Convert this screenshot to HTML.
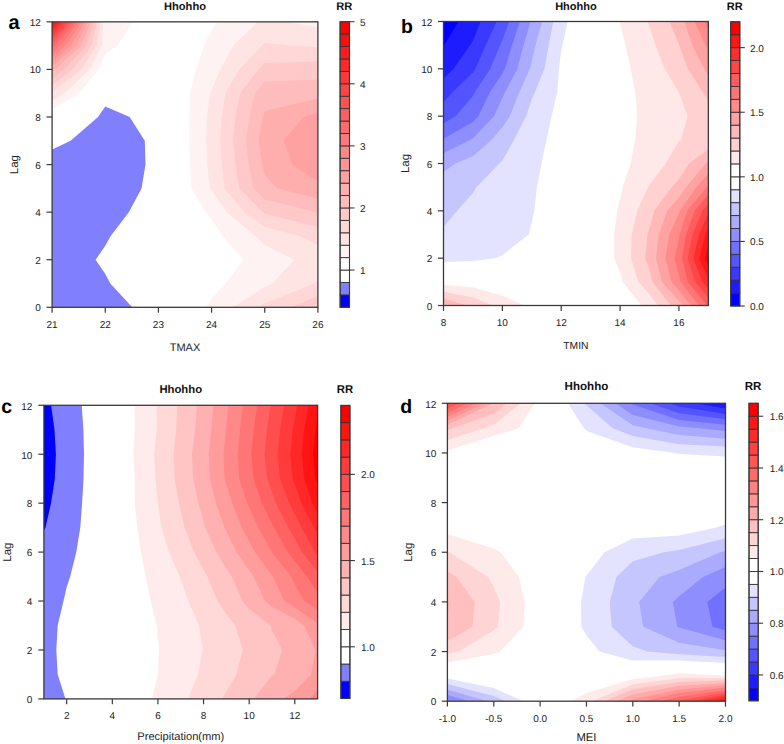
<!DOCTYPE html>
<html><head><meta charset="utf-8"><style>
html,body{margin:0;padding:0;background:#fff;}
svg{display:block;}
text{font-family:"Liberation Sans", sans-serif;text-rendering:geometricPrecision;}
</style></head><body>
<svg width="784" height="744" viewBox="0 0 784 744" font-family='"Liberation Sans", sans-serif'>
<rect width="784" height="744" fill="#fff"/>
<clipPath id="clipa"><rect x="52.1" y="21.85" width="265.80" height="285.45"/></clipPath>
<g clip-path="url(#clipa)">
<path d="M52.1 307.3L105.3 307.3L132.3 307.3L110.3 283.5L105.3 274.1L95.6 259.7L105.3 245.8L110.7 235.9L128.8 212.2L141.5 188.4L145.5 164.6L144.8 140.8L129.7 117.0L105.3 106.6L98.0 117.0L70.6 140.8L52.1 149.5L52.1 164.6L52.1 188.4L52.1 212.2L52.1 235.9L52.1 259.7L52.1 283.5Z" fill="#8080ff" fill-rule="evenodd"/>
<path d="M206.3 307.3L211.6 307.3L264.7 307.3L317.9 307.3L317.9 283.5L317.9 259.7L317.9 235.9L317.9 212.2L317.9 188.4L317.9 164.6L317.9 140.8L317.9 117.0L317.9 93.2L317.9 69.4L317.9 45.6L317.9 21.9L264.7 21.9L217.0 21.9L211.6 30.5L203.9 45.6L196.1 69.4L190.0 93.2L189.4 117.0L189.2 140.8L189.8 164.6L191.2 188.4L206.0 212.2L211.6 219.7L222.8 235.9L243.2 259.7L225.5 283.5L211.6 298.4ZM52.1 93.2L52.1 109.8L79.4 93.2L98.5 69.4L105.3 53.9L117.5 45.6L132.9 21.9L105.3 21.9L52.1 21.9L52.1 45.6L52.1 69.4Z" fill="#fff2f2" fill-rule="evenodd"/>
<path d="M233.1 307.3L264.7 307.3L317.9 307.3L317.9 283.5L317.9 259.7L317.9 235.9L317.9 212.2L317.9 188.4L317.9 164.6L317.9 140.8L317.9 117.0L317.9 93.2L317.9 69.4L317.9 45.6L317.9 27.0L287.3 21.9L264.7 21.9L257.5 21.9L233.4 45.6L220.4 69.4L211.6 90.2L210.2 93.2L206.8 117.0L206.1 140.8L207.2 164.6L210.1 188.4L211.6 190.4L226.7 212.2L255.2 235.9L264.7 244.9L294.1 259.7L272.8 283.5L264.7 286.8ZM52.1 93.2L52.1 100.8L64.7 93.2L89.8 69.4L102.2 45.6L103.2 21.9L52.1 21.9L52.1 45.6L52.1 69.4Z" fill="#ffe4e4" fill-rule="evenodd"/>
<path d="M259.0 307.3L264.7 307.3L317.9 307.3L317.9 283.5L317.9 280.3L314.1 283.5L264.7 303.6ZM299.6 235.9L317.9 245.0L317.9 235.9L317.9 212.2L317.9 188.4L317.9 164.6L317.9 140.8L317.9 117.0L317.9 93.2L317.9 69.4L317.9 47.3L289.7 45.6L264.7 43.0L261.8 45.6L239.4 69.4L225.4 93.2L221.6 117.0L220.2 140.8L221.7 164.6L224.8 188.4L244.6 212.2L264.7 226.7ZM52.1 69.4L52.1 92.2L81.1 69.4L97.0 45.6L100.1 21.9L52.1 21.9L52.1 45.6Z" fill="#ffd7d7" fill-rule="evenodd"/>
<path d="M290.8 307.3L317.9 307.3L317.9 296.1ZM262.6 212.2L264.7 213.7L317.9 226.9L317.9 212.2L317.9 188.4L317.9 164.6L317.9 140.8L317.9 117.0L317.9 93.2L317.9 69.4L317.9 61.6L264.7 62.9L258.3 69.4L240.2 93.2L235.5 117.0L233.1 140.8L235.2 164.6L239.2 188.4ZM52.1 69.4L52.1 85.4L72.5 69.4L91.7 45.6L97.1 21.9L52.1 21.9L52.1 45.6Z" fill="#ffc9c9" fill-rule="evenodd"/>
<path d="M316.4 212.2L317.9 212.5L317.9 212.2L317.9 188.4L317.9 164.6L317.9 140.8L317.9 117.0L317.9 93.2L317.9 79.4L264.7 81.4L255.1 93.2L249.3 117.0L245.9 140.8L248.8 164.6L253.5 188.4L264.7 199.5ZM52.1 69.4L52.1 78.6L63.8 69.4L86.5 45.6L94.0 21.9L52.1 21.9L52.1 45.6Z" fill="#ffbcbc" fill-rule="evenodd"/>
<path d="M277.2 188.4L317.9 198.4L317.9 188.4L317.9 164.6L317.9 140.8L317.9 117.0L317.9 98.5L264.7 111.1L263.1 117.0L258.7 140.8L262.3 164.6L264.7 175.3ZM52.1 69.4L52.1 71.8L55.1 69.4L81.3 45.6L90.9 21.9L52.1 21.9L52.1 45.6Z" fill="#ffaeae" fill-rule="evenodd"/>
<path d="M292.4 164.6L317.9 181.8L317.9 164.6L317.9 140.8L317.9 117.0L317.9 112.4L303.5 117.0L283.7 140.8ZM52.1 45.6L52.1 66.5L76.1 45.6L87.9 21.9L52.1 21.9Z" fill="#ffa1a1" fill-rule="evenodd"/>
<path d="M52.1 45.6L52.1 61.9L70.9 45.6L84.8 21.9L52.1 21.9Z" fill="#ff9494" fill-rule="evenodd"/>
<path d="M52.1 45.6L52.1 57.4L65.6 45.6L81.8 21.9L52.1 21.9Z" fill="#ff8686" fill-rule="evenodd"/>
<path d="M52.1 45.6L52.1 52.9L60.4 45.6L78.7 21.9L52.1 21.9Z" fill="#ff7979" fill-rule="evenodd"/>
<path d="M52.1 45.6L52.1 48.3L55.2 45.6L75.6 21.9L52.1 21.9Z" fill="#ff6b6b" fill-rule="evenodd"/>
<path d="M52.1 21.9L52.1 44.3L72.6 21.9Z" fill="#ff5e5e" fill-rule="evenodd"/>
<path d="M52.1 21.9L52.1 40.9L69.5 21.9Z" fill="#ff5151" fill-rule="evenodd"/>
<path d="M52.1 21.9L52.1 37.6L66.4 21.9Z" fill="#ff4343" fill-rule="evenodd"/>
<path d="M52.1 21.9L52.1 34.2L63.4 21.9Z" fill="#ff3636" fill-rule="evenodd"/>
<path d="M52.1 21.9L52.1 30.8L60.3 21.9Z" fill="#ff2828" fill-rule="evenodd"/>
<path d="M52.1 21.9L52.1 27.5L57.2 21.9Z" fill="#ff1b1b" fill-rule="evenodd"/>
<path d="M52.1 21.9L52.1 24.1L54.2 21.9Z" fill="#ff0d0d" fill-rule="evenodd"/>
</g>
<rect x="52.1" y="21.85" width="265.80" height="285.45" fill="none" stroke="#3a3a3a" stroke-width="1.3"/>
<line x1="52.10" y1="307.3" x2="52.10" y2="312.70" stroke="#3a3a3a" stroke-width="1.2"/>
<text x="52.10" y="327.70" font-size="10" text-anchor="middle" fill="#222">21</text>
<line x1="105.26" y1="307.3" x2="105.26" y2="312.70" stroke="#3a3a3a" stroke-width="1.2"/>
<text x="105.26" y="327.70" font-size="10" text-anchor="middle" fill="#222">22</text>
<line x1="158.42" y1="307.3" x2="158.42" y2="312.70" stroke="#3a3a3a" stroke-width="1.2"/>
<text x="158.42" y="327.70" font-size="10" text-anchor="middle" fill="#222">23</text>
<line x1="211.58" y1="307.3" x2="211.58" y2="312.70" stroke="#3a3a3a" stroke-width="1.2"/>
<text x="211.58" y="327.70" font-size="10" text-anchor="middle" fill="#222">24</text>
<line x1="264.74" y1="307.3" x2="264.74" y2="312.70" stroke="#3a3a3a" stroke-width="1.2"/>
<text x="264.74" y="327.70" font-size="10" text-anchor="middle" fill="#222">25</text>
<line x1="317.90" y1="307.3" x2="317.90" y2="312.70" stroke="#3a3a3a" stroke-width="1.2"/>
<text x="317.90" y="327.70" font-size="10" text-anchor="middle" fill="#222">26</text>
<line x1="46.50" y1="307.30" x2="52.1" y2="307.30" stroke="#3a3a3a" stroke-width="1.2"/>
<text x="40.90" y="311.30" font-size="10" text-anchor="end" fill="#222">0</text>
<line x1="46.50" y1="259.73" x2="52.1" y2="259.73" stroke="#3a3a3a" stroke-width="1.2"/>
<text x="40.90" y="263.73" font-size="10" text-anchor="end" fill="#222">2</text>
<line x1="46.50" y1="212.15" x2="52.1" y2="212.15" stroke="#3a3a3a" stroke-width="1.2"/>
<text x="40.90" y="216.15" font-size="10" text-anchor="end" fill="#222">4</text>
<line x1="46.50" y1="164.58" x2="52.1" y2="164.58" stroke="#3a3a3a" stroke-width="1.2"/>
<text x="40.90" y="168.58" font-size="10" text-anchor="end" fill="#222">6</text>
<line x1="46.50" y1="117.00" x2="52.1" y2="117.00" stroke="#3a3a3a" stroke-width="1.2"/>
<text x="40.90" y="121.00" font-size="10" text-anchor="end" fill="#222">8</text>
<line x1="46.50" y1="69.43" x2="52.1" y2="69.43" stroke="#3a3a3a" stroke-width="1.2"/>
<text x="40.90" y="73.43" font-size="10" text-anchor="end" fill="#222">10</text>
<line x1="46.50" y1="21.85" x2="52.1" y2="21.85" stroke="#3a3a3a" stroke-width="1.2"/>
<text x="40.90" y="25.85" font-size="10" text-anchor="end" fill="#222">12</text>
<text x="185.00" y="350.50" font-size="11" text-anchor="middle" fill="#222">TMAX</text>
<text transform="translate(17.90,164.58) rotate(-90)" x="0" y="0" font-size="11.5" text-anchor="middle" fill="#222">Lag</text>
<text x="185.00" y="9.80" font-size="11.1" font-weight="bold" text-anchor="middle" fill="#111">Hhohho</text>
<text x="8.60" y="29.20" font-size="20" font-weight="bold" fill="#000">a</text>
<rect x="340.1" y="294.88" width="9.40" height="12.42" fill="#0000ff" stroke="#333" stroke-width="0.9"/>
<rect x="340.1" y="282.47" width="9.40" height="12.42" fill="#8080ff" stroke="#333" stroke-width="0.9"/>
<rect x="340.1" y="270.05" width="9.40" height="12.42" fill="#ffffff" stroke="#333" stroke-width="0.9"/>
<rect x="340.1" y="257.63" width="9.40" height="12.42" fill="#ffffff" stroke="#333" stroke-width="0.9"/>
<rect x="340.1" y="245.21" width="9.40" height="12.42" fill="#fff2f2" stroke="#333" stroke-width="0.9"/>
<rect x="340.1" y="232.80" width="9.40" height="12.42" fill="#ffe4e4" stroke="#333" stroke-width="0.9"/>
<rect x="340.1" y="220.38" width="9.40" height="12.42" fill="#ffd7d7" stroke="#333" stroke-width="0.9"/>
<rect x="340.1" y="207.96" width="9.40" height="12.42" fill="#ffc9c9" stroke="#333" stroke-width="0.9"/>
<rect x="340.1" y="195.54" width="9.40" height="12.42" fill="#ffbcbc" stroke="#333" stroke-width="0.9"/>
<rect x="340.1" y="183.13" width="9.40" height="12.42" fill="#ffaeae" stroke="#333" stroke-width="0.9"/>
<rect x="340.1" y="170.71" width="9.40" height="12.42" fill="#ffa1a1" stroke="#333" stroke-width="0.9"/>
<rect x="340.1" y="158.29" width="9.40" height="12.42" fill="#ff9494" stroke="#333" stroke-width="0.9"/>
<rect x="340.1" y="145.87" width="9.40" height="12.42" fill="#ff8686" stroke="#333" stroke-width="0.9"/>
<rect x="340.1" y="133.46" width="9.40" height="12.42" fill="#ff7979" stroke="#333" stroke-width="0.9"/>
<rect x="340.1" y="121.04" width="9.40" height="12.42" fill="#ff6b6b" stroke="#333" stroke-width="0.9"/>
<rect x="340.1" y="108.62" width="9.40" height="12.42" fill="#ff5e5e" stroke="#333" stroke-width="0.9"/>
<rect x="340.1" y="96.20" width="9.40" height="12.42" fill="#ff5151" stroke="#333" stroke-width="0.9"/>
<rect x="340.1" y="83.79" width="9.40" height="12.42" fill="#ff4343" stroke="#333" stroke-width="0.9"/>
<rect x="340.1" y="71.37" width="9.40" height="12.42" fill="#ff3636" stroke="#333" stroke-width="0.9"/>
<rect x="340.1" y="58.95" width="9.40" height="12.42" fill="#ff2828" stroke="#333" stroke-width="0.9"/>
<rect x="340.1" y="46.53" width="9.40" height="12.42" fill="#ff1b1b" stroke="#333" stroke-width="0.9"/>
<rect x="340.1" y="34.12" width="9.40" height="12.42" fill="#ff0d0d" stroke="#333" stroke-width="0.9"/>
<rect x="340.1" y="21.70" width="9.40" height="12.42" fill="#ff0000" stroke="#333" stroke-width="0.9"/>
<rect x="340.1" y="21.7" width="9.40" height="285.60" fill="none" stroke="#3a3a3a" stroke-width="1.1"/>
<line x1="349.5" y1="270.05" x2="354.50" y2="270.05" stroke="#3a3a3a" stroke-width="1.1"/>
<text x="360.10" y="274.05" font-size="10" fill="#222">1</text>
<line x1="349.5" y1="207.96" x2="354.50" y2="207.96" stroke="#3a3a3a" stroke-width="1.1"/>
<text x="360.10" y="211.96" font-size="10" fill="#222">2</text>
<line x1="349.5" y1="145.87" x2="354.50" y2="145.87" stroke="#3a3a3a" stroke-width="1.1"/>
<text x="360.10" y="149.87" font-size="10" fill="#222">3</text>
<line x1="349.5" y1="83.79" x2="354.50" y2="83.79" stroke="#3a3a3a" stroke-width="1.1"/>
<text x="360.10" y="87.79" font-size="10" fill="#222">4</text>
<line x1="349.5" y1="21.70" x2="354.50" y2="21.70" stroke="#3a3a3a" stroke-width="1.1"/>
<text x="360.10" y="25.70" font-size="10" fill="#222">5</text>
<text x="344.30" y="9.80" font-size="11.1" font-weight="bold" text-anchor="middle" fill="#111">RR</text>
<clipPath id="clipb"><rect x="443.5" y="21.5" width="264.85" height="284.00"/></clipPath>
<g clip-path="url(#clipb)">
<path d="M443.5 258.2L443.5 261.9L472.9 260.9L495.6 258.2L502.4 254.9L528.8 234.5L531.8 221.8L534.3 210.8L536.9 187.2L541.5 163.5L546.5 139.8L551.6 116.2L557.3 92.5L559.0 68.8L561.2 50.7L562.5 45.2L567.7 21.5L561.2 21.5L531.8 21.5L502.4 21.5L472.9 21.5L443.5 21.5L443.5 45.2L443.5 68.8L443.5 92.5L443.5 116.2L443.5 139.8L443.5 163.5L443.5 187.2L443.5 210.8L443.5 234.5Z" fill="#e3e3ff" fill-rule="evenodd"/>
<path d="M443.5 210.8L443.5 226.7L457.2 210.8L472.9 192.9L476.3 187.2L499.3 163.5L502.4 160.6L514.0 139.8L526.1 116.2L531.8 99.0L534.8 92.5L544.4 68.8L548.7 45.2L553.4 21.5L531.8 21.5L502.4 21.5L472.9 21.5L443.5 21.5L443.5 45.2L443.5 68.8L443.5 92.5L443.5 116.2L443.5 139.8L443.5 163.5L443.5 187.2Z" fill="#c6c6ff" fill-rule="evenodd"/>
<path d="M443.5 163.5L443.5 172.0L455.4 163.5L472.9 156.2L491.7 139.8L502.4 127.3L509.8 116.2L519.2 92.5L530.0 68.8L531.8 61.1L535.6 45.2L542.0 21.5L531.8 21.5L502.4 21.5L472.9 21.5L443.5 21.5L443.5 45.2L443.5 68.8L443.5 92.5L443.5 116.2L443.5 139.8Z" fill="#aaaaff" fill-rule="evenodd"/>
<path d="M443.5 139.8L443.5 153.2L470.7 139.8L472.9 138.6L493.9 116.2L502.4 98.1L504.8 92.5L517.4 68.8L523.5 45.2L530.6 21.5L502.4 21.5L472.9 21.5L443.5 21.5L443.5 45.2L443.5 68.8L443.5 92.5L443.5 116.2Z" fill="#8e8eff" fill-rule="evenodd"/>
<path d="M443.5 116.2L443.5 138.8L472.9 121.9L478.3 116.2L489.8 92.5L502.4 73.4L504.8 68.8L512.0 45.2L519.9 21.5L502.4 21.5L472.9 21.5L443.5 21.5L443.5 45.2L443.5 68.8L443.5 92.5Z" fill="#7171ff" fill-rule="evenodd"/>
<path d="M443.5 116.2L443.5 123.3L455.7 116.2L472.9 95.9L474.6 92.5L490.3 68.8L500.0 45.2L502.4 40.3L509.2 21.5L502.4 21.5L472.9 21.5L443.5 21.5L443.5 45.2L443.5 68.8L443.5 92.5Z" fill="#5555ff" fill-rule="evenodd"/>
<path d="M443.5 92.5L443.5 102.3L452.3 92.5L472.9 72.5L475.4 68.8L485.7 45.2L496.6 21.5L472.9 21.5L443.5 21.5L443.5 45.2L443.5 68.8Z" fill="#3939ff" fill-rule="evenodd"/>
<path d="M443.5 68.8L443.5 78.6L453.6 68.8L470.0 45.2L472.9 40.7L480.6 21.5L472.9 21.5L443.5 21.5L443.5 45.2Z" fill="#1c1cff" fill-rule="evenodd"/>
<path d="M443.5 45.2L443.5 46.1L444.1 45.2L458.5 21.5L443.5 21.5Z" fill="#0000ff" fill-rule="evenodd"/>
<path d="M443.5 305.5L472.9 305.5L502.4 305.5L524.7 305.5L502.4 295.8L472.9 287.2L443.5 284.9ZM641.6 305.5L649.5 305.5L678.9 305.5L708.4 305.5L708.4 281.8L708.4 258.2L708.4 234.5L708.4 210.8L708.4 187.2L708.4 163.5L708.4 139.8L708.4 116.2L708.4 92.5L708.4 68.8L708.4 45.2L708.4 21.5L678.9 21.5L649.5 21.5L620.1 21.5L619.6 21.5L620.1 23.4L625.4 45.2L630.6 68.8L635.2 92.5L637.1 116.2L635.2 139.8L630.6 163.5L622.7 187.2L620.1 198.7L617.2 210.8L614.2 234.5L614.2 258.2L620.1 272.4L622.5 281.8Z" fill="#ffe8e8" fill-rule="evenodd"/>
<path d="M443.5 305.5L472.9 305.5L493.2 305.5L472.9 297.5L443.5 291.8ZM638.4 281.8L649.5 294.3L657.7 305.5L678.9 305.5L708.4 305.5L708.4 281.8L708.4 258.2L708.4 234.5L708.4 210.8L708.4 187.2L708.4 163.5L708.4 139.8L708.4 116.2L708.4 92.5L708.4 68.8L708.4 45.2L708.4 21.5L678.9 21.5L649.5 21.5L647.6 21.5L649.5 26.6L655.5 45.2L664.8 68.8L678.9 92.3L679.0 92.5L687.7 116.2L681.1 139.8L678.9 141.0L665.7 163.5L649.5 184.8L648.2 187.2L637.2 210.8L631.8 234.5L631.0 258.2Z" fill="#ffd1d1" fill-rule="evenodd"/>
<path d="M443.5 305.5L467.6 305.5L443.5 298.7ZM671.0 305.5L678.9 305.5L708.4 305.5L708.4 281.8L708.4 258.2L708.4 234.5L708.4 210.8L708.4 187.2L708.4 163.5L708.4 149.2L689.2 163.5L678.9 179.3L671.7 187.2L654.2 210.8L649.5 228.4L647.5 234.5L645.3 258.2L649.5 269.7L652.4 281.8ZM703.0 92.5L708.4 101.1L708.4 92.5L708.4 68.8L708.4 45.2L708.4 21.5L678.9 21.5L669.4 21.5L678.9 44.1L679.2 45.2L687.9 68.8Z" fill="#ffb9b9" fill-rule="evenodd"/>
<path d="M661.9 281.8L678.9 301.1L682.3 305.5L708.4 305.5L708.4 281.8L708.4 258.2L708.4 234.5L708.4 210.8L708.4 187.2L708.4 163.5L708.4 161.6L705.8 163.5L686.1 187.2L678.9 197.5L667.2 210.8L658.8 234.5L656.0 258.2ZM704.2 68.8L708.4 74.7L708.4 68.8L708.4 45.2L708.4 21.5L684.5 21.5L692.3 45.2Z" fill="#ffa2a2" fill-rule="evenodd"/>
<path d="M671.4 281.8L678.9 290.3L690.6 305.5L708.4 305.5L708.4 281.8L708.4 258.2L708.4 234.5L708.4 210.8L708.4 187.2L708.4 173.6L696.5 187.2L679.7 210.8L678.9 213.3L669.4 234.5L665.3 258.2ZM705.4 45.2L708.4 50.6L708.4 45.2L708.4 21.5L694.5 21.5Z" fill="#ff8b8b" fill-rule="evenodd"/>
<path d="M698.9 305.5L708.4 305.5L708.4 281.8L708.4 258.2L708.4 234.5L708.4 210.8L708.4 187.2L708.4 185.5L706.9 187.2L687.2 210.8L679.6 234.5L678.9 238.9L674.6 258.2L678.9 274.4L680.5 281.8ZM704.5 21.5L708.4 29.3L708.4 21.5Z" fill="#ff7474" fill-rule="evenodd"/>
<path d="M707.2 305.5L708.4 305.5L708.4 281.8L708.4 258.2L708.4 234.5L708.4 210.8L708.4 194.8L694.7 210.8L686.1 234.5L682.0 258.2L687.8 281.8Z" fill="#ff5d5d" fill-rule="evenodd"/>
<path d="M695.0 281.8L708.4 297.9L708.4 281.8L708.4 258.2L708.4 234.5L708.4 210.8L708.4 203.6L702.3 210.8L692.5 234.5L687.7 258.2Z" fill="#ff4646" fill-rule="evenodd"/>
<path d="M702.3 281.8L708.4 289.1L708.4 281.8L708.4 258.2L708.4 234.5L708.4 213.6L699.0 234.5L693.4 258.2Z" fill="#ff2e2e" fill-rule="evenodd"/>
<path d="M699.1 258.2L708.4 279.6L708.4 258.2L708.4 234.5L708.4 228.1L705.5 234.5Z" fill="#ff1717" fill-rule="evenodd"/>
<path d="M704.8 258.2L708.4 266.4L708.4 258.2L708.4 245.7Z" fill="#ff0000" fill-rule="evenodd"/>
</g>
<rect x="443.5" y="21.5" width="264.85" height="284.00" fill="none" stroke="#3a3a3a" stroke-width="1.3"/>
<line x1="443.50" y1="305.5" x2="443.50" y2="310.90" stroke="#3a3a3a" stroke-width="1.2"/>
<text x="443.50" y="325.50" font-size="10" text-anchor="middle" fill="#222">8</text>
<line x1="502.36" y1="305.5" x2="502.36" y2="310.90" stroke="#3a3a3a" stroke-width="1.2"/>
<text x="502.36" y="325.50" font-size="10" text-anchor="middle" fill="#222">10</text>
<line x1="561.21" y1="305.5" x2="561.21" y2="310.90" stroke="#3a3a3a" stroke-width="1.2"/>
<text x="561.21" y="325.50" font-size="10" text-anchor="middle" fill="#222">12</text>
<line x1="620.07" y1="305.5" x2="620.07" y2="310.90" stroke="#3a3a3a" stroke-width="1.2"/>
<text x="620.07" y="325.50" font-size="10" text-anchor="middle" fill="#222">14</text>
<line x1="678.92" y1="305.5" x2="678.92" y2="310.90" stroke="#3a3a3a" stroke-width="1.2"/>
<text x="678.92" y="325.50" font-size="10" text-anchor="middle" fill="#222">16</text>
<line x1="437.90" y1="305.50" x2="443.5" y2="305.50" stroke="#3a3a3a" stroke-width="1.2"/>
<text x="432.40" y="309.60" font-size="10" text-anchor="end" fill="#222">0</text>
<line x1="437.90" y1="258.17" x2="443.5" y2="258.17" stroke="#3a3a3a" stroke-width="1.2"/>
<text x="432.40" y="262.27" font-size="10" text-anchor="end" fill="#222">2</text>
<line x1="437.90" y1="210.83" x2="443.5" y2="210.83" stroke="#3a3a3a" stroke-width="1.2"/>
<text x="432.40" y="214.93" font-size="10" text-anchor="end" fill="#222">4</text>
<line x1="437.90" y1="163.50" x2="443.5" y2="163.50" stroke="#3a3a3a" stroke-width="1.2"/>
<text x="432.40" y="167.60" font-size="10" text-anchor="end" fill="#222">6</text>
<line x1="437.90" y1="116.17" x2="443.5" y2="116.17" stroke="#3a3a3a" stroke-width="1.2"/>
<text x="432.40" y="120.27" font-size="10" text-anchor="end" fill="#222">8</text>
<line x1="437.90" y1="68.83" x2="443.5" y2="68.83" stroke="#3a3a3a" stroke-width="1.2"/>
<text x="432.40" y="72.93" font-size="10" text-anchor="end" fill="#222">10</text>
<line x1="437.90" y1="21.50" x2="443.5" y2="21.50" stroke="#3a3a3a" stroke-width="1.2"/>
<text x="432.40" y="25.60" font-size="10" text-anchor="end" fill="#222">12</text>
<text x="575.92" y="348.70" font-size="10.3" text-anchor="middle" fill="#222">TMIN</text>
<text transform="translate(409.40,163.50) rotate(-90)" x="0" y="0" font-size="11.5" text-anchor="middle" fill="#222">Lag</text>
<text x="575.92" y="9.50" font-size="11.0" font-weight="bold" text-anchor="middle" fill="#111">Hhohho</text>
<text x="401.00" y="33.20" font-size="19.5" font-weight="bold" fill="#000">b</text>
<rect x="730.7" y="293.08" width="9.10" height="12.92" fill="#0000ff" stroke="#333" stroke-width="0.9"/>
<rect x="730.7" y="280.16" width="9.10" height="12.92" fill="#1c1cff" stroke="#333" stroke-width="0.9"/>
<rect x="730.7" y="267.25" width="9.10" height="12.92" fill="#3939ff" stroke="#333" stroke-width="0.9"/>
<rect x="730.7" y="254.33" width="9.10" height="12.92" fill="#5555ff" stroke="#333" stroke-width="0.9"/>
<rect x="730.7" y="241.41" width="9.10" height="12.92" fill="#7171ff" stroke="#333" stroke-width="0.9"/>
<rect x="730.7" y="228.49" width="9.10" height="12.92" fill="#8e8eff" stroke="#333" stroke-width="0.9"/>
<rect x="730.7" y="215.57" width="9.10" height="12.92" fill="#aaaaff" stroke="#333" stroke-width="0.9"/>
<rect x="730.7" y="202.65" width="9.10" height="12.92" fill="#c6c6ff" stroke="#333" stroke-width="0.9"/>
<rect x="730.7" y="189.74" width="9.10" height="12.92" fill="#e3e3ff" stroke="#333" stroke-width="0.9"/>
<rect x="730.7" y="176.82" width="9.10" height="12.92" fill="#ffffff" stroke="#333" stroke-width="0.9"/>
<rect x="730.7" y="163.90" width="9.10" height="12.92" fill="#ffffff" stroke="#333" stroke-width="0.9"/>
<rect x="730.7" y="150.98" width="9.10" height="12.92" fill="#ffe8e8" stroke="#333" stroke-width="0.9"/>
<rect x="730.7" y="138.06" width="9.10" height="12.92" fill="#ffd1d1" stroke="#333" stroke-width="0.9"/>
<rect x="730.7" y="125.15" width="9.10" height="12.92" fill="#ffb9b9" stroke="#333" stroke-width="0.9"/>
<rect x="730.7" y="112.23" width="9.10" height="12.92" fill="#ffa2a2" stroke="#333" stroke-width="0.9"/>
<rect x="730.7" y="99.31" width="9.10" height="12.92" fill="#ff8b8b" stroke="#333" stroke-width="0.9"/>
<rect x="730.7" y="86.39" width="9.10" height="12.92" fill="#ff7474" stroke="#333" stroke-width="0.9"/>
<rect x="730.7" y="73.47" width="9.10" height="12.92" fill="#ff5d5d" stroke="#333" stroke-width="0.9"/>
<rect x="730.7" y="60.55" width="9.10" height="12.92" fill="#ff4646" stroke="#333" stroke-width="0.9"/>
<rect x="730.7" y="47.64" width="9.10" height="12.92" fill="#ff2e2e" stroke="#333" stroke-width="0.9"/>
<rect x="730.7" y="34.72" width="9.10" height="12.92" fill="#ff1717" stroke="#333" stroke-width="0.9"/>
<rect x="730.7" y="21.80" width="9.10" height="12.92" fill="#ff0000" stroke="#333" stroke-width="0.9"/>
<rect x="730.7" y="21.8" width="9.10" height="284.20" fill="none" stroke="#3a3a3a" stroke-width="1.1"/>
<line x1="739.8" y1="306.00" x2="744.80" y2="306.00" stroke="#3a3a3a" stroke-width="1.1"/>
<text x="750.00" y="310.00" font-size="10" fill="#222">0.0</text>
<line x1="739.8" y1="241.41" x2="744.80" y2="241.41" stroke="#3a3a3a" stroke-width="1.1"/>
<text x="750.00" y="245.41" font-size="10" fill="#222">0.5</text>
<line x1="739.8" y1="176.82" x2="744.80" y2="176.82" stroke="#3a3a3a" stroke-width="1.1"/>
<text x="750.00" y="180.82" font-size="10" fill="#222">1.0</text>
<line x1="739.8" y1="112.23" x2="744.80" y2="112.23" stroke="#3a3a3a" stroke-width="1.1"/>
<text x="750.00" y="116.23" font-size="10" fill="#222">1.5</text>
<line x1="739.8" y1="47.64" x2="744.80" y2="47.64" stroke="#3a3a3a" stroke-width="1.1"/>
<text x="750.00" y="51.64" font-size="10" fill="#222">2.0</text>
<text x="734.75" y="9.50" font-size="11.0" font-weight="bold" text-anchor="middle" fill="#111">RR</text>
<clipPath id="clipc"><rect x="43.9" y="405.3" width="273.70" height="293.60"/></clipPath>
<g clip-path="url(#clipc)">
<path d="M43.9 698.9L65.5 698.9L57.7 674.4L56.3 650.0L57.7 625.5L63.5 601.0L66.7 587.3L70.2 576.6L76.3 552.1L80.3 527.6L82.1 503.2L83.5 478.7L84.0 454.2L83.4 429.8L81.7 405.3L66.7 405.3L43.9 405.3L43.9 429.8L43.9 454.2L43.9 478.7L43.9 503.2L43.9 527.6L43.9 552.1L43.9 576.6L43.9 601.0L43.9 625.5L43.9 650.0L43.9 674.4Z" fill="#8080ff" fill-rule="evenodd"/>
<path d="M43.9 527.6L43.9 530.7L45.5 527.6L51.0 503.2L54.8 478.7L55.9 454.2L54.5 429.8L51.1 405.3L43.9 405.3L43.9 429.8L43.9 454.2L43.9 478.7L43.9 503.2Z" fill="#0000ff" fill-rule="evenodd"/>
<path d="M151.8 698.9L157.9 698.9L180.8 698.9L203.6 698.9L226.4 698.9L249.2 698.9L272.0 698.9L294.8 698.9L317.6 698.9L317.6 674.4L317.6 650.0L317.6 625.5L317.6 601.0L317.6 576.6L317.6 552.1L317.6 527.6L317.6 503.2L317.6 478.7L317.6 454.2L317.6 429.8L317.6 405.3L294.8 405.3L272.0 405.3L249.2 405.3L226.4 405.3L203.6 405.3L180.8 405.3L157.9 405.3L135.1 405.3L134.8 405.3L134.8 429.8L133.6 454.2L134.8 478.7L134.8 503.2L135.1 506.3L137.3 527.6L140.9 552.1L145.8 576.6L150.6 601.0L156.7 625.5L157.9 638.0L159.1 650.0L157.9 673.1L157.9 674.4Z" fill="#ffebeb" fill-rule="evenodd"/>
<path d="M188.2 698.9L203.6 698.9L226.4 698.9L249.2 698.9L272.0 698.9L294.8 698.9L317.6 698.9L317.6 674.4L317.6 650.0L317.6 625.5L317.6 601.0L317.6 576.6L317.6 552.1L317.6 527.6L317.6 503.2L317.6 478.7L317.6 454.2L317.6 429.8L317.6 405.3L294.8 405.3L272.0 405.3L249.2 405.3L226.4 405.3L203.6 405.3L180.8 405.3L157.9 405.3L156.7 405.3L156.6 429.8L154.2 454.2L155.4 478.7L157.9 503.2L157.9 503.6L161.5 527.6L168.9 552.1L179.7 576.6L180.8 579.4L188.2 601.0L199.1 625.5L202.7 650.0L197.9 674.4Z" fill="#ffd8d8" fill-rule="evenodd"/>
<path d="M222.1 698.9L226.4 698.9L249.2 698.9L272.0 698.9L294.8 698.9L317.6 698.9L317.6 674.4L317.6 650.0L317.6 625.5L317.6 601.0L317.6 576.6L317.6 552.1L317.6 527.6L317.6 503.2L317.6 478.7L317.6 454.2L317.6 429.8L317.6 405.3L294.8 405.3L272.0 405.3L249.2 405.3L226.4 405.3L203.6 405.3L180.8 405.3L177.3 405.3L176.2 429.8L173.6 454.2L174.7 478.7L179.0 503.2L180.8 510.7L184.5 527.6L194.1 552.1L203.6 569.7L207.5 576.6L217.4 601.0L226.4 613.9L235.3 625.5L242.7 650.0L236.5 674.4L226.4 691.4Z" fill="#ffc4c4" fill-rule="evenodd"/>
<path d="M253.6 698.9L272.0 698.9L294.8 698.9L317.6 698.9L317.6 674.4L317.6 650.0L317.6 625.5L317.6 601.0L317.6 576.6L317.6 552.1L317.6 527.6L317.6 503.2L317.6 478.7L317.6 454.2L317.6 429.8L317.6 405.3L294.8 405.3L272.0 405.3L249.2 405.3L226.4 405.3L203.6 405.3L196.9 405.3L195.1 429.8L191.9 454.2L193.2 478.7L198.4 503.2L203.6 522.0L205.1 527.6L216.2 552.1L226.4 568.4L231.7 576.6L242.5 601.0L249.2 609.3L270.5 625.5L272.0 630.4L282.2 650.0L274.3 674.4L272.0 675.4Z" fill="#ffb1b1" fill-rule="evenodd"/>
<path d="M283.0 698.9L294.8 698.9L317.6 698.9L317.6 674.4L317.6 650.0L317.6 625.5L317.6 601.0L317.6 576.6L317.6 552.1L317.6 527.6L317.6 503.2L317.6 478.7L317.6 454.2L317.6 429.8L317.6 405.3L294.8 405.3L272.0 405.3L249.2 405.3L226.4 405.3L213.4 405.3L211.4 429.8L208.7 454.2L209.9 478.7L216.0 503.2L224.4 527.6L226.4 531.6L236.5 552.1L249.2 570.4L253.5 576.6L265.0 601.0L272.0 607.1L294.8 618.8L304.0 625.5L315.6 650.0L311.0 674.4L294.8 691.3Z" fill="#ff9d9d" fill-rule="evenodd"/>
<path d="M309.2 698.9L317.6 698.9L317.6 690.1ZM284.5 601.0L294.8 607.4L317.6 623.6L317.6 601.0L317.6 576.6L317.6 552.1L317.6 527.6L317.6 503.2L317.6 478.7L317.6 454.2L317.6 429.8L317.6 405.3L294.8 405.3L272.0 405.3L249.2 405.3L228.3 405.3L226.4 423.9L225.8 429.8L223.5 454.2L224.5 478.7L226.4 484.5L232.3 503.2L241.8 527.6L249.2 541.4L254.9 552.1L272.0 575.3L272.9 576.6Z" fill="#ff8989" fill-rule="evenodd"/>
<path d="M304.2 601.0L317.6 609.8L317.6 601.0L317.6 576.6L317.6 552.1L317.6 527.6L317.6 503.2L317.6 478.7L317.6 454.2L317.6 429.8L317.6 405.3L294.8 405.3L272.0 405.3L249.2 405.3L242.9 405.3L240.0 429.8L237.6 454.2L239.2 478.7L247.3 503.2L249.2 507.5L258.3 527.6L271.8 552.1L272.0 552.4L291.1 576.6L294.8 584.3Z" fill="#ff7676" fill-rule="evenodd"/>
<path d="M306.8 576.6L317.6 592.7L317.6 576.6L317.6 552.1L317.6 527.6L317.6 503.2L317.6 478.7L317.6 454.2L317.6 429.8L317.6 405.3L294.8 405.3L272.0 405.3L257.0 405.3L253.8 429.8L251.3 454.2L253.5 478.7L261.9 503.2L272.0 523.4L274.1 527.6L287.7 552.1L294.8 560.9Z" fill="#ff6262" fill-rule="evenodd"/>
<path d="M302.0 552.1L317.6 571.8L317.6 552.1L317.6 527.6L317.6 503.2L317.6 478.7L317.6 454.2L317.6 429.8L317.6 405.3L294.8 405.3L272.0 405.3L270.6 405.3L267.0 429.8L264.6 454.2L267.1 478.7L272.0 492.0L276.0 503.2L288.2 527.6L294.8 538.8Z" fill="#ff4e4e" fill-rule="evenodd"/>
<path d="M315.1 552.1L317.6 555.3L317.6 552.1L317.6 527.6L317.6 503.2L317.6 478.7L317.6 454.2L317.6 429.8L317.6 405.3L294.8 405.3L284.2 405.3L280.0 429.8L277.6 454.2L280.1 478.7L289.4 503.2L294.8 513.7L301.5 527.6Z" fill="#ff3b3b" fill-rule="evenodd"/>
<path d="M314.1 527.6L317.6 533.9L317.6 527.6L317.6 503.2L317.6 478.7L317.6 454.2L317.6 429.8L317.6 405.3L297.3 405.3L294.8 419.7L292.8 429.8L290.3 454.2L292.7 478.7L294.8 484.0L301.4 503.2Z" fill="#ff2727" fill-rule="evenodd"/>
<path d="M312.4 503.2L317.6 512.8L317.6 503.2L317.6 478.7L317.6 454.2L317.6 429.8L317.6 405.3L308.7 405.3L304.1 429.8L301.9 454.2L304.2 478.7Z" fill="#ff1414" fill-rule="evenodd"/>
<path d="M315.4 478.7L317.6 485.2L317.6 478.7L317.6 454.2L317.6 429.8L317.6 417.5L315.2 429.8L312.9 454.2Z" fill="#ff0000" fill-rule="evenodd"/>
</g>
<rect x="43.9" y="405.3" width="273.70" height="293.60" fill="none" stroke="#3a3a3a" stroke-width="1.3"/>
<line x1="66.71" y1="698.9" x2="66.71" y2="704.30" stroke="#3a3a3a" stroke-width="1.2"/>
<text x="66.71" y="719.40" font-size="10" text-anchor="middle" fill="#222">2</text>
<line x1="112.33" y1="698.9" x2="112.33" y2="704.30" stroke="#3a3a3a" stroke-width="1.2"/>
<text x="112.33" y="719.40" font-size="10" text-anchor="middle" fill="#222">4</text>
<line x1="157.94" y1="698.9" x2="157.94" y2="704.30" stroke="#3a3a3a" stroke-width="1.2"/>
<text x="157.94" y="719.40" font-size="10" text-anchor="middle" fill="#222">6</text>
<line x1="203.56" y1="698.9" x2="203.56" y2="704.30" stroke="#3a3a3a" stroke-width="1.2"/>
<text x="203.56" y="719.40" font-size="10" text-anchor="middle" fill="#222">8</text>
<line x1="249.18" y1="698.9" x2="249.18" y2="704.30" stroke="#3a3a3a" stroke-width="1.2"/>
<text x="249.18" y="719.40" font-size="10" text-anchor="middle" fill="#222">10</text>
<line x1="294.79" y1="698.9" x2="294.79" y2="704.30" stroke="#3a3a3a" stroke-width="1.2"/>
<text x="294.79" y="719.40" font-size="10" text-anchor="middle" fill="#222">12</text>
<line x1="38.30" y1="698.90" x2="43.9" y2="698.90" stroke="#3a3a3a" stroke-width="1.2"/>
<text x="32.40" y="703.20" font-size="10" text-anchor="end" fill="#222">0</text>
<line x1="38.30" y1="649.97" x2="43.9" y2="649.97" stroke="#3a3a3a" stroke-width="1.2"/>
<text x="32.40" y="654.27" font-size="10" text-anchor="end" fill="#222">2</text>
<line x1="38.30" y1="601.03" x2="43.9" y2="601.03" stroke="#3a3a3a" stroke-width="1.2"/>
<text x="32.40" y="605.33" font-size="10" text-anchor="end" fill="#222">4</text>
<line x1="38.30" y1="552.10" x2="43.9" y2="552.10" stroke="#3a3a3a" stroke-width="1.2"/>
<text x="32.40" y="556.40" font-size="10" text-anchor="end" fill="#222">6</text>
<line x1="38.30" y1="503.17" x2="43.9" y2="503.17" stroke="#3a3a3a" stroke-width="1.2"/>
<text x="32.40" y="507.47" font-size="10" text-anchor="end" fill="#222">8</text>
<line x1="38.30" y1="454.23" x2="43.9" y2="454.23" stroke="#3a3a3a" stroke-width="1.2"/>
<text x="32.40" y="458.53" font-size="10" text-anchor="end" fill="#222">10</text>
<line x1="38.30" y1="405.30" x2="43.9" y2="405.30" stroke="#3a3a3a" stroke-width="1.2"/>
<text x="32.40" y="409.60" font-size="10" text-anchor="end" fill="#222">12</text>
<text x="180.75" y="740.10" font-size="11.1" text-anchor="middle" fill="#222">Precipitation(mm)</text>
<text transform="translate(10.50,552.10) rotate(-90)" x="0" y="0" font-size="11.5" text-anchor="middle" fill="#222">Lag</text>
<text x="180.75" y="392.60" font-size="11.3" font-weight="bold" text-anchor="middle" fill="#111">Hhohho</text>
<text x="1.20" y="413.20" font-size="19.5" font-weight="bold" fill="#000">c</text>
<rect x="340.9" y="681.26" width="9.00" height="17.24" fill="#0000ff" stroke="#333" stroke-width="0.9"/>
<rect x="340.9" y="664.02" width="9.00" height="17.24" fill="#8080ff" stroke="#333" stroke-width="0.9"/>
<rect x="340.9" y="646.78" width="9.00" height="17.24" fill="#ffffff" stroke="#333" stroke-width="0.9"/>
<rect x="340.9" y="629.54" width="9.00" height="17.24" fill="#ffffff" stroke="#333" stroke-width="0.9"/>
<rect x="340.9" y="612.29" width="9.00" height="17.24" fill="#ffebeb" stroke="#333" stroke-width="0.9"/>
<rect x="340.9" y="595.05" width="9.00" height="17.24" fill="#ffd8d8" stroke="#333" stroke-width="0.9"/>
<rect x="340.9" y="577.81" width="9.00" height="17.24" fill="#ffc4c4" stroke="#333" stroke-width="0.9"/>
<rect x="340.9" y="560.57" width="9.00" height="17.24" fill="#ffb1b1" stroke="#333" stroke-width="0.9"/>
<rect x="340.9" y="543.33" width="9.00" height="17.24" fill="#ff9d9d" stroke="#333" stroke-width="0.9"/>
<rect x="340.9" y="526.09" width="9.00" height="17.24" fill="#ff8989" stroke="#333" stroke-width="0.9"/>
<rect x="340.9" y="508.85" width="9.00" height="17.24" fill="#ff7676" stroke="#333" stroke-width="0.9"/>
<rect x="340.9" y="491.61" width="9.00" height="17.24" fill="#ff6262" stroke="#333" stroke-width="0.9"/>
<rect x="340.9" y="474.36" width="9.00" height="17.24" fill="#ff4e4e" stroke="#333" stroke-width="0.9"/>
<rect x="340.9" y="457.12" width="9.00" height="17.24" fill="#ff3b3b" stroke="#333" stroke-width="0.9"/>
<rect x="340.9" y="439.88" width="9.00" height="17.24" fill="#ff2727" stroke="#333" stroke-width="0.9"/>
<rect x="340.9" y="422.64" width="9.00" height="17.24" fill="#ff1414" stroke="#333" stroke-width="0.9"/>
<rect x="340.9" y="405.40" width="9.00" height="17.24" fill="#ff0000" stroke="#333" stroke-width="0.9"/>
<rect x="340.9" y="405.4" width="9.00" height="293.10" fill="none" stroke="#3a3a3a" stroke-width="1.1"/>
<line x1="349.9" y1="646.78" x2="354.90" y2="646.78" stroke="#3a3a3a" stroke-width="1.1"/>
<text x="360.90" y="650.78" font-size="10" fill="#222">1.0</text>
<line x1="349.9" y1="560.57" x2="354.90" y2="560.57" stroke="#3a3a3a" stroke-width="1.1"/>
<text x="360.90" y="564.57" font-size="10" fill="#222">1.5</text>
<line x1="349.9" y1="474.36" x2="354.90" y2="474.36" stroke="#3a3a3a" stroke-width="1.1"/>
<text x="360.90" y="478.36" font-size="10" fill="#222">2.0</text>
<text x="344.90" y="392.60" font-size="11.3" font-weight="bold" text-anchor="middle" fill="#111">RR</text>
<clipPath id="clipd"><rect x="447.4" y="403.3" width="278.10" height="297.90"/></clipPath>
<g clip-path="url(#clipd)">
<path d="M447.4 701.2L493.8 701.2L523.6 701.2L493.8 688.0L447.4 678.4ZM599.3 651.6L632.8 660.4L679.1 660.5L725.5 663.0L725.5 651.6L725.5 626.7L725.5 601.9L725.5 577.1L725.5 552.2L725.5 527.4L725.5 524.3L716.3 527.4L679.1 535.4L632.8 538.6L604.5 552.2L586.5 575.5L585.4 577.1L581.1 601.9L581.3 626.7L586.5 635.5ZM675.2 453.0L679.1 454.1L725.5 456.5L725.5 453.0L725.5 428.1L725.5 403.3L679.1 403.3L632.8 403.3L586.5 403.3L567.9 403.3L583.8 428.1L586.5 430.9L632.8 447.3Z" fill="#e3e3ff" fill-rule="evenodd"/>
<path d="M447.4 701.2L493.8 701.2L505.4 701.2L493.8 696.1L447.4 683.9ZM647.4 651.6L679.1 654.2L725.5 656.9L725.5 651.6L725.5 626.7L725.5 601.9L725.5 577.1L725.5 552.2L725.5 538.3L679.1 550.0L663.6 552.2L632.8 561.2L616.4 577.1L609.7 601.9L611.7 626.7L632.8 646.2ZM612.4 428.1L632.8 436.1L679.1 444.3L725.5 446.5L725.5 428.1L725.5 403.3L679.1 403.3L632.8 403.3L586.5 403.3L585.2 403.3L586.5 405.2Z" fill="#c6c6ff" fill-rule="evenodd"/>
<path d="M447.4 701.2L487.1 701.2L447.4 689.4ZM643.2 626.7L679.1 642.7L725.5 650.2L725.5 626.7L725.5 601.9L725.5 577.1L725.5 552.2L725.5 550.9L720.2 552.2L679.1 569.9L659.5 577.1L639.1 601.9ZM645.3 428.1L679.1 435.1L725.5 438.7L725.5 428.1L725.5 403.3L679.1 403.3L632.8 403.3L600.5 403.3L632.8 425.2Z" fill="#aaaaff" fill-rule="evenodd"/>
<path d="M447.4 701.2L468.7 701.2L447.4 694.8ZM677.3 626.7L679.1 627.6L725.5 640.3L725.5 626.7L725.5 601.9L725.5 577.1L725.5 566.9L703.1 577.1L679.1 596.3L672.8 601.9ZM697.4 428.1L725.5 430.9L725.5 428.1L725.5 403.3L679.1 403.3L632.8 403.3L615.7 403.3L632.8 414.9L679.1 426.6Z" fill="#8e8eff" fill-rule="evenodd"/>
<path d="M447.4 701.2L450.3 701.2L447.4 700.3ZM712.4 626.7L725.5 630.4L725.5 626.7L725.5 601.9L725.5 587.6L707.3 601.9ZM630.9 403.3L632.8 404.6L679.1 419.9L725.5 424.7L725.5 403.3L679.1 403.3L632.8 403.3Z" fill="#7171ff" fill-rule="evenodd"/>
<path d="M650.0 403.3L679.1 413.2L725.5 419.3L725.5 403.3L679.1 403.3Z" fill="#5555ff" fill-rule="evenodd"/>
<path d="M669.6 403.3L679.1 406.5L725.5 413.9L725.5 403.3L679.1 403.3Z" fill="#3939ff" fill-rule="evenodd"/>
<path d="M695.2 403.3L725.5 408.5L725.5 403.3Z" fill="#1c1cff" fill-rule="evenodd"/>
<path d="M571.3 701.2L586.5 701.2L632.8 701.2L679.1 701.2L725.5 701.2L725.5 676.4L725.5 675.4L679.1 673.2L656.7 676.4L632.8 679.1L586.5 692.9ZM447.4 651.6L447.4 662.6L493.8 654.1L500.2 651.6L523.4 626.7L524.8 601.9L518.9 577.1L500.5 552.2L493.8 548.6L447.4 534.1L447.4 552.2L447.4 577.1L447.4 601.9L447.4 626.7ZM447.4 428.1L447.4 450.2L493.8 435.8L519.2 428.1L534.8 403.3L493.8 403.3L447.4 403.3Z" fill="#ffeaea" fill-rule="evenodd"/>
<path d="M592.1 701.2L632.8 701.2L679.1 701.2L725.5 701.2L725.5 678.3L679.1 678.2L632.8 684.2ZM447.4 651.6L447.4 654.1L458.8 651.6L493.8 630.3L497.8 626.7L500.1 601.9L493.8 587.3L488.0 577.1L449.4 552.2L447.4 551.6L447.4 552.2L447.4 577.1L447.4 601.9L447.4 626.7ZM447.4 428.1L447.4 440.2L484.4 428.1L493.8 424.8L520.9 403.3L493.8 403.3L447.4 403.3Z" fill="#ffd4d4" fill-rule="evenodd"/>
<path d="M604.3 701.2L632.8 701.2L679.1 701.2L725.5 701.2L725.5 680.6L679.1 682.0L632.8 689.3ZM447.4 626.7L447.4 641.3L472.5 626.7L474.7 601.9L456.4 577.1L447.4 571.4L447.4 577.1L447.4 601.9ZM447.4 428.1L447.4 430.2L453.8 428.1L493.8 413.8L507.1 403.3L493.8 403.3L447.4 403.3Z" fill="#ffbfbf" fill-rule="evenodd"/>
<path d="M616.5 701.2L632.8 701.2L679.1 701.2L725.5 701.2L725.5 682.9L679.1 685.7L632.8 694.4ZM447.4 601.9L447.4 623.7L449.0 601.9L447.4 599.9ZM447.4 403.3L447.4 424.9L493.4 403.3Z" fill="#ffaaaa" fill-rule="evenodd"/>
<path d="M628.7 701.2L632.8 701.2L679.1 701.2L725.5 701.2L725.5 685.3L679.1 689.4L632.8 699.5ZM447.4 403.3L447.4 420.9L484.8 403.3Z" fill="#ff9595" fill-rule="evenodd"/>
<path d="M643.7 701.2L679.1 701.2L725.5 701.2L725.5 687.6L679.1 693.1ZM447.4 403.3L447.4 416.8L476.2 403.3Z" fill="#ff8080" fill-rule="evenodd"/>
<path d="M660.1 701.2L679.1 701.2L725.5 701.2L725.5 689.9L679.1 696.9ZM447.4 403.3L447.4 412.8L467.6 403.3Z" fill="#ff6a6a" fill-rule="evenodd"/>
<path d="M676.5 701.2L679.1 701.2L725.5 701.2L725.5 692.2L679.1 700.6ZM447.4 403.3L447.4 408.7L459.0 403.3Z" fill="#ff5555" fill-rule="evenodd"/>
<path d="M689.6 701.2L725.5 701.2L725.5 694.5ZM447.4 403.3L447.4 404.7L450.3 403.3Z" fill="#ff4040" fill-rule="evenodd"/>
<path d="M702.0 701.2L725.5 701.2L725.5 696.8Z" fill="#ff2a2a" fill-rule="evenodd"/>
<path d="M714.5 701.2L725.5 701.2L725.5 699.2Z" fill="#ff1515" fill-rule="evenodd"/>
</g>
<rect x="447.4" y="403.3" width="278.10" height="297.90" fill="none" stroke="#3a3a3a" stroke-width="1.3"/>
<line x1="447.40" y1="701.2" x2="447.40" y2="706.60" stroke="#3a3a3a" stroke-width="1.2"/>
<text x="447.40" y="722.00" font-size="10" text-anchor="middle" fill="#222">-1.0</text>
<line x1="493.75" y1="701.2" x2="493.75" y2="706.60" stroke="#3a3a3a" stroke-width="1.2"/>
<text x="493.75" y="722.00" font-size="10" text-anchor="middle" fill="#222">-0.5</text>
<line x1="540.10" y1="701.2" x2="540.10" y2="706.60" stroke="#3a3a3a" stroke-width="1.2"/>
<text x="540.10" y="722.00" font-size="10" text-anchor="middle" fill="#222">0.0</text>
<line x1="586.45" y1="701.2" x2="586.45" y2="706.60" stroke="#3a3a3a" stroke-width="1.2"/>
<text x="586.45" y="722.00" font-size="10" text-anchor="middle" fill="#222">0.5</text>
<line x1="632.80" y1="701.2" x2="632.80" y2="706.60" stroke="#3a3a3a" stroke-width="1.2"/>
<text x="632.80" y="722.00" font-size="10" text-anchor="middle" fill="#222">1.0</text>
<line x1="679.15" y1="701.2" x2="679.15" y2="706.60" stroke="#3a3a3a" stroke-width="1.2"/>
<text x="679.15" y="722.00" font-size="10" text-anchor="middle" fill="#222">1.5</text>
<line x1="725.50" y1="701.2" x2="725.50" y2="706.60" stroke="#3a3a3a" stroke-width="1.2"/>
<text x="725.50" y="722.00" font-size="10" text-anchor="middle" fill="#222">2.0</text>
<line x1="441.80" y1="701.20" x2="447.4" y2="701.20" stroke="#3a3a3a" stroke-width="1.2"/>
<text x="436.30" y="705.40" font-size="10" text-anchor="end" fill="#222">0</text>
<line x1="441.80" y1="651.55" x2="447.4" y2="651.55" stroke="#3a3a3a" stroke-width="1.2"/>
<text x="436.30" y="655.75" font-size="10" text-anchor="end" fill="#222">2</text>
<line x1="441.80" y1="601.90" x2="447.4" y2="601.90" stroke="#3a3a3a" stroke-width="1.2"/>
<text x="436.30" y="606.10" font-size="10" text-anchor="end" fill="#222">4</text>
<line x1="441.80" y1="552.25" x2="447.4" y2="552.25" stroke="#3a3a3a" stroke-width="1.2"/>
<text x="436.30" y="556.45" font-size="10" text-anchor="end" fill="#222">6</text>
<line x1="441.80" y1="502.60" x2="447.4" y2="502.60" stroke="#3a3a3a" stroke-width="1.2"/>
<text x="436.30" y="506.80" font-size="10" text-anchor="end" fill="#222">8</text>
<line x1="441.80" y1="452.95" x2="447.4" y2="452.95" stroke="#3a3a3a" stroke-width="1.2"/>
<text x="436.30" y="457.15" font-size="10" text-anchor="end" fill="#222">10</text>
<line x1="441.80" y1="403.30" x2="447.4" y2="403.30" stroke="#3a3a3a" stroke-width="1.2"/>
<text x="436.30" y="407.50" font-size="10" text-anchor="end" fill="#222">12</text>
<text x="586.45" y="740.50" font-size="11.3" text-anchor="middle" fill="#222">MEI</text>
<text transform="translate(411.60,552.25) rotate(-90)" x="0" y="0" font-size="11.5" text-anchor="middle" fill="#222">Lag</text>
<text x="586.45" y="389.80" font-size="11.6" font-weight="bold" text-anchor="middle" fill="#111">Hhohho</text>
<text x="400.20" y="413.40" font-size="19.5" font-weight="bold" fill="#000">d</text>
<rect x="749.0" y="687.87" width="9.20" height="12.93" fill="#0000ff" stroke="#333" stroke-width="0.9"/>
<rect x="749.0" y="674.93" width="9.20" height="12.93" fill="#1c1cff" stroke="#333" stroke-width="0.9"/>
<rect x="749.0" y="662.00" width="9.20" height="12.93" fill="#3939ff" stroke="#333" stroke-width="0.9"/>
<rect x="749.0" y="649.06" width="9.20" height="12.93" fill="#5555ff" stroke="#333" stroke-width="0.9"/>
<rect x="749.0" y="636.13" width="9.20" height="12.93" fill="#7171ff" stroke="#333" stroke-width="0.9"/>
<rect x="749.0" y="623.19" width="9.20" height="12.93" fill="#8e8eff" stroke="#333" stroke-width="0.9"/>
<rect x="749.0" y="610.26" width="9.20" height="12.93" fill="#aaaaff" stroke="#333" stroke-width="0.9"/>
<rect x="749.0" y="597.32" width="9.20" height="12.93" fill="#c6c6ff" stroke="#333" stroke-width="0.9"/>
<rect x="749.0" y="584.39" width="9.20" height="12.93" fill="#e3e3ff" stroke="#333" stroke-width="0.9"/>
<rect x="749.0" y="571.45" width="9.20" height="12.93" fill="#ffffff" stroke="#333" stroke-width="0.9"/>
<rect x="749.0" y="558.52" width="9.20" height="12.93" fill="#ffffff" stroke="#333" stroke-width="0.9"/>
<rect x="749.0" y="545.58" width="9.20" height="12.93" fill="#ffeaea" stroke="#333" stroke-width="0.9"/>
<rect x="749.0" y="532.65" width="9.20" height="12.93" fill="#ffd4d4" stroke="#333" stroke-width="0.9"/>
<rect x="749.0" y="519.71" width="9.20" height="12.93" fill="#ffbfbf" stroke="#333" stroke-width="0.9"/>
<rect x="749.0" y="506.78" width="9.20" height="12.93" fill="#ffaaaa" stroke="#333" stroke-width="0.9"/>
<rect x="749.0" y="493.84" width="9.20" height="12.93" fill="#ff9595" stroke="#333" stroke-width="0.9"/>
<rect x="749.0" y="480.91" width="9.20" height="12.93" fill="#ff8080" stroke="#333" stroke-width="0.9"/>
<rect x="749.0" y="467.97" width="9.20" height="12.93" fill="#ff6a6a" stroke="#333" stroke-width="0.9"/>
<rect x="749.0" y="455.04" width="9.20" height="12.93" fill="#ff5555" stroke="#333" stroke-width="0.9"/>
<rect x="749.0" y="442.10" width="9.20" height="12.93" fill="#ff4040" stroke="#333" stroke-width="0.9"/>
<rect x="749.0" y="429.17" width="9.20" height="12.93" fill="#ff2a2a" stroke="#333" stroke-width="0.9"/>
<rect x="749.0" y="416.23" width="9.20" height="12.93" fill="#ff1515" stroke="#333" stroke-width="0.9"/>
<rect x="749.0" y="403.30" width="9.20" height="12.93" fill="#ff0000" stroke="#333" stroke-width="0.9"/>
<rect x="749.0" y="403.3" width="9.20" height="297.50" fill="none" stroke="#3a3a3a" stroke-width="1.1"/>
<line x1="758.2" y1="674.93" x2="763.20" y2="674.93" stroke="#3a3a3a" stroke-width="1.1"/>
<text x="769.70" y="678.93" font-size="10" fill="#222">0.6</text>
<line x1="758.2" y1="623.19" x2="763.20" y2="623.19" stroke="#3a3a3a" stroke-width="1.1"/>
<text x="769.70" y="627.19" font-size="10" fill="#222">0.8</text>
<line x1="758.2" y1="571.45" x2="763.20" y2="571.45" stroke="#3a3a3a" stroke-width="1.1"/>
<text x="769.70" y="575.45" font-size="10" fill="#222">1.0</text>
<line x1="758.2" y1="519.71" x2="763.20" y2="519.71" stroke="#3a3a3a" stroke-width="1.1"/>
<text x="769.70" y="523.71" font-size="10" fill="#222">1.2</text>
<line x1="758.2" y1="467.97" x2="763.20" y2="467.97" stroke="#3a3a3a" stroke-width="1.1"/>
<text x="769.70" y="471.97" font-size="10" fill="#222">1.4</text>
<line x1="758.2" y1="416.23" x2="763.20" y2="416.23" stroke="#3a3a3a" stroke-width="1.1"/>
<text x="769.70" y="420.23" font-size="10" fill="#222">1.6</text>
<text x="753.10" y="389.80" font-size="11.6" font-weight="bold" text-anchor="middle" fill="#111">RR</text>
</svg></body></html>
